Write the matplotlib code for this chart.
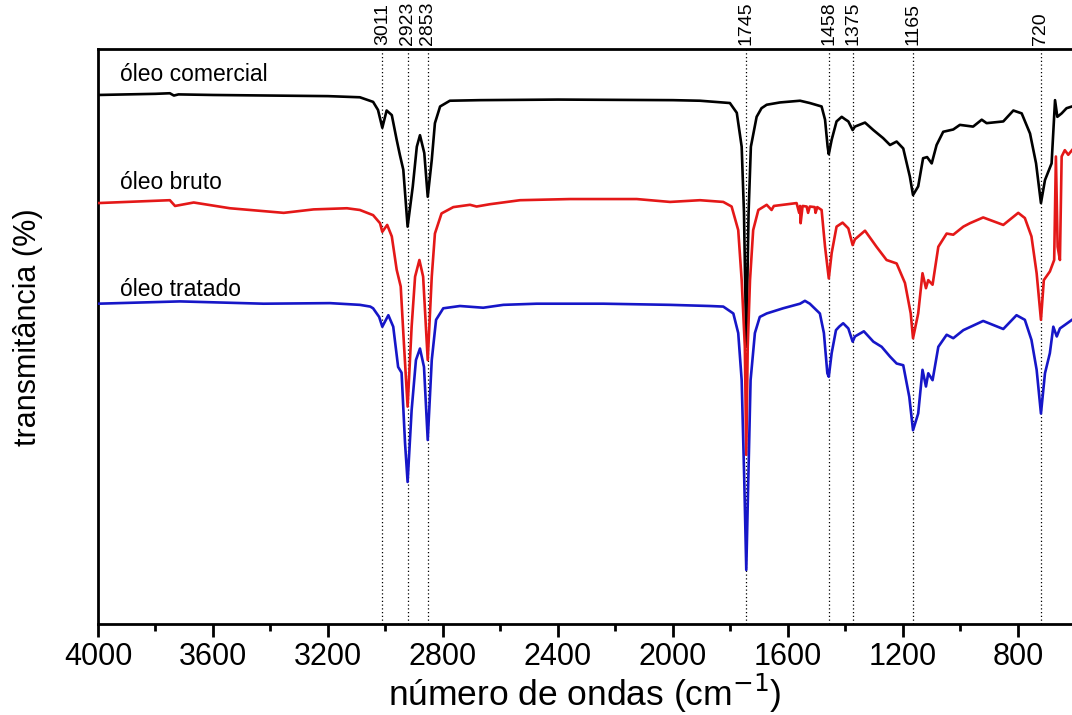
import matplotlib
matplotlib.use("Agg")
import matplotlib.pyplot as plt
import numpy as np
from matplotlib.ticker import MultipleLocator
from matplotlib import font_manager

# ---------------- data ----------------
wn_comercial = [4000, 3800, 3750, 3736, 3720, 3600, 3400, 3200, 3089, 3043, 3026, 3011, 2996, 2978,
                2961, 2950, 2938, 2923, 2905, 2891, 2880, 2865, 2853, 2839, 2828, 2810, 2776, 2671,
                2400, 2000, 1906, 1802, 1778, 1761, 1753, 1745, 1737, 1729, 1709, 1692, 1674, 1628,
                1558, 1524, 1483, 1471, 1462, 1458, 1448, 1431, 1413, 1402, 1390, 1375, 1367, 1332,
                1303, 1269, 1245, 1222, 1199, 1176, 1165, 1147, 1130, 1116, 1100, 1083, 1060, 1025,
                1002, 956, 926, 909, 851, 816, 787, 758, 737, 720, 706, 683, 671, 663, 648, 631, 612]
t_comercial = [92.0, 92.2, 92.3, 91.9, 92.1, 92.0, 91.9, 91.8, 91.6, 90.8, 89.4, 86.3, 89.3, 88.5,
               84.2, 81.6, 79.0, 69.1, 76.1, 83.0, 85.0, 81.9, 74.3, 80.7, 87.1, 90.0, 91.0, 91.1,
               91.2, 91.1, 91.0, 90.6, 88.9, 83.0, 71.5, 48.2, 71.5, 83.0, 88.2, 89.7, 90.3, 90.7,
               91.0, 90.6, 90.0, 87.7, 83.0, 81.7, 84.2, 87.4, 88.2, 87.8, 87.4, 85.9, 86.5, 87.2,
               85.9, 84.5, 83.3, 83.9, 82.7, 77.8, 74.6, 76.1, 81.0, 81.2, 80.1, 83.3, 85.6, 86.0,
               86.8, 86.5, 87.7, 87.1, 87.4, 89.3, 88.8, 85.3, 80.1, 73.2, 77.2, 80.1, 91.1, 88.2,
               88.8, 89.7, 90.0]

wn_bruto = [4000, 3750, 3732, 3667, 3541, 3354, 3250, 3134, 3089, 3043, 3019, 3011, 2994, 2978,
            2961, 2947, 2936, 2923, 2909, 2897, 2882, 2869, 2853, 2839, 2828, 2805, 2764, 2706,
            2683, 2637, 2532, 2358, 2126, 2010, 1906, 1825, 1796, 1773, 1761, 1750, 1745, 1740,
            1732, 1721, 1703, 1674, 1657, 1649, 1570, 1561, 1558, 1556, 1549, 1535, 1530, 1524,
            1507, 1504, 1498, 1483, 1471, 1458, 1448, 1431, 1410, 1390, 1375, 1367, 1332, 1292,
            1257, 1222, 1193, 1173, 1165, 1147, 1132, 1120, 1112, 1097, 1077, 1048, 1025, 990,
            967, 921, 851, 799, 776, 753, 735, 720, 710, 689, 674, 668, 662, 654, 648, 637, 625, 612]
t_bruto = [73.2, 73.7, 72.7, 73.3, 72.3, 71.5, 72.1, 72.3, 72.0, 71.1, 69.7, 68.2, 69.4, 67.4,
           61.6, 58.7, 48.9, 37.8, 51.7, 60.4, 63.3, 60.4, 45.9, 60.4, 67.9, 71.4, 72.5, 72.9,
           72.6, 73.0, 73.7, 73.9, 73.9, 73.4, 73.7, 73.4, 72.6, 68.5, 59.8, 48.2, 29.4, 48.2,
           59.8, 68.5, 72.0, 72.9, 72.0, 72.7, 73.2, 71.5, 72.7, 69.7, 72.7, 72.6, 71.5, 72.6,
           72.5, 71.5, 72.5, 72.0, 65.6, 60.1, 64.5, 69.1, 69.8, 68.8, 65.9, 66.9, 68.4, 65.6,
           63.3, 62.7, 59.3, 54.0, 49.7, 54.0, 61.0, 58.4, 59.8, 59.0, 65.6, 67.9, 67.7, 69.1,
           69.7, 70.7, 69.4, 71.5, 70.6, 67.4, 61.0, 52.9, 59.8, 61.3, 63.3, 81.3, 65.6, 63.3,
           81.3, 82.4, 81.6, 82.4]

wn_tratado = [4000, 3715, 3424, 3193, 3089, 3053, 3043, 3022, 3011, 2990, 2973, 2956, 2944, 2932,
              2923, 2909, 2894, 2880, 2866, 2853, 2839, 2824, 2799, 2741, 2660, 2590, 2474, 2242,
              2010, 1872, 1825, 1790, 1773, 1761, 1752, 1745, 1738, 1730, 1715, 1698, 1674, 1617,
              1558, 1541, 1524, 1489, 1475, 1463, 1458, 1448, 1433, 1422, 1408, 1390, 1375, 1367,
              1336, 1303, 1274, 1245, 1222, 1199, 1178, 1165, 1147, 1132, 1120, 1112, 1097, 1077,
              1048, 1025, 990, 921, 851, 805, 776, 753, 735, 720, 706, 689, 677, 665, 654, 637, 612]
t_tratado = [55.7, 56.1, 55.7, 55.8, 55.5, 55.2, 54.9, 53.4, 51.7, 53.7, 51.7, 44.7, 43.7, 31.5,
             24.7, 37.2, 45.9, 47.9, 44.7, 32.0, 45.9, 52.9, 54.9, 55.3, 55.0, 55.5, 55.7, 55.7,
             55.5, 55.3, 55.2, 54.0, 50.6, 42.4, 25.0, 9.4, 25.0, 42.4, 50.6, 53.4, 54.0, 54.9,
             55.7, 56.2, 55.7, 54.0, 50.6, 43.6, 43.0, 47.1, 51.1, 51.7, 52.3, 51.4, 49.1, 50.0,
             50.9, 49.1, 48.2, 46.5, 45.3, 45.0, 39.5, 33.7, 36.6, 44.2, 41.3, 43.6, 42.4, 48.2,
             50.3, 49.7, 51.1, 52.7, 51.3, 53.7, 52.9, 49.4, 44.2, 36.6, 43.6, 47.1, 51.7, 50.0,
             51.4, 52.0, 52.9]

series_names = ["óleo comercial", "óleo bruto", "óleo tratado"]
series_colors = ["#000000", "#e41818", "#1616c8"]
label_y = [95.5, 76.7, 58.1]

band_positions = [3011, 2923, 2853, 1745, 1458, 1375, 1165, 720]
band_labels = ["3011", "2923", "2853", "1745", "1458", "1375", "1165", "720"]

xticks_major = [4000, 3600, 3200, 2800, 2400, 2000, 1600, 1200, 800]

# ---------------- fonts ----------------
avail = {f.name for f in font_manager.fontManager.ttflist}
narrow = "Liberation Sans Narrow" if "Liberation Sans Narrow" in avail else "Liberation Sans"
plt.rcParams['font.family'] = ['Liberation Sans', 'DejaVu Sans']

fig = plt.figure(figsize=(10.72, 7.15), dpi=100)
ax = fig.add_axes([0.0914, 0.1273, 0.9086, 0.8042])

for wn, t, c in zip([wn_comercial, wn_bruto, wn_tratado],
                    [t_comercial, t_bruto, t_tratado], series_colors):
    ax.plot(wn, t, color=c, lw=1.9, zorder=3)

for wn in band_positions:
    ax.axvline(wn, color="black", lw=0.9, ls=(0, (1, 2)), zorder=2)

for name, y in zip(series_names, label_y):
    ax.text(3925, y, name, fontsize=16.5, va="center", ha="left", color="black")

ax.set_xlim(4000, 612)
ax.set_ylim(0, 100)

ax.set_xticks(xticks_major)
ax.set_xticklabels([str(v) for v in xticks_major])
ax.xaxis.set_minor_locator(MultipleLocator(200))
ax.tick_params(axis="x", which="major", direction="out", length=9, width=2, labelsize=22, pad=4)
ax.tick_params(axis="x", which="minor", direction="out", length=5, width=2)
ax.set_yticks([])
ax.spines["right"].set_visible(False)
for s in ["left", "top", "bottom"]:
    ax.spines[s].set_linewidth(2)

# band labels above the top spine
for wn, lab in zip(band_positions, band_labels):
    ax.text(wn, 100.7, lab, rotation=90, ha="center", va="bottom", fontsize=14,
            family=[narrow, "DejaVu Sans"], clip_on=False)

ax.set_xlabel("número de ondas (cm$^{-1}$)", fontsize=25.5, va="center")
ax.xaxis.set_label_coords(0.5, -0.12)
ax.set_ylabel("transmitância (%)", fontsize=22, family=[narrow, "DejaVu Sans"], va="center")
ax.yaxis.set_label_coords(-0.072, 0.5165)

fig.savefig("out.png", dpi=100)
